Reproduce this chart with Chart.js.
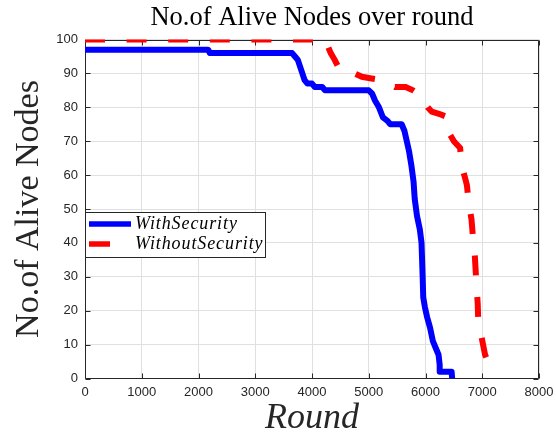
<!DOCTYPE html>
<html><head><meta charset="utf-8">
<script src="https://cdn.jsdelivr.net/npm/chart.js@4"></script>
<style>html,body{margin:0;padding:0;background:#fff}#wrap{width:556px;height:438px}</style>
</head><body><div id="wrap"><canvas id="c" width="556" height="438"></canvas></div>
<script>
const titleText = 'No.of Alive Nodes over round';
const xTitle = 'Round';
const yTitle = 'No.of Alive Nodes';
const seriesNames = ['WithSecurity', 'WithoutSecurity'];
const xTickValues = [0, 1000, 2000, 3000, 4000, 5000, 6000, 7000, 8000];
const yTickValues = [0, 10, 20, 30, 40, 50, 60, 70, 80, 90, 100];

const withRounds = [0, 2170, 2200, 3650, 3700, 3750, 3790, 3830, 3870, 3920, 4000, 4050, 4180, 4230, 5000, 5060, 5110, 5180, 5250, 5330, 5380, 5580, 5630, 5670, 5710, 5750, 5790, 5810, 5850, 5900, 5930, 5950, 5960, 5990, 6030, 6080, 6130, 6180, 6230, 6250, 6250, 6460, 6470];
const withNodes  = [97, 97, 96, 96, 95, 94, 92, 90, 88, 87, 87, 86, 86, 85, 85, 84, 82, 80, 77, 76, 75, 75, 73, 70, 67, 63, 58, 53, 48, 44, 40, 30, 24, 21, 18, 15, 11, 9, 7, 4, 2, 2, 0];

const withoutRounds = [0, 4250, 4280, 4330, 4400, 4460, 4530, 4600, 4750, 4880, 5050, 5230, 5350, 5460, 5650, 5780, 5870, 5960, 6040, 6110, 6250, 6400, 6430, 6500, 6610, 6640, 6700, 6730, 6760, 6810, 6840, 6870, 6890, 6920, 6930, 6940, 6990, 7050, 7100, 7190];
const withoutNodes  = [100, 100, 98, 96, 94, 92, 91, 90, 90, 89, 88.5, 88, 87, 86, 86, 85, 84, 82, 80, 78.7, 78, 77, 72, 70, 68, 62.5, 59, 57, 52, 47, 41, 36, 30, 22, 17, 14, 12, 7, 5, 3];

const toPts = (xs, ys) => xs.map((x, i) => ({x: x, y: ys[i]}));

const AX = '#262626';

const framePlugin = {
  id: 'frame',
  beforeDatasetsDraw(chart) {
    const {ctx, chartArea: a, scales: {x, y}} = chart;
    ctx.save();
    ctx.strokeStyle = AX;
    ctx.lineWidth = 1;
    ctx.beginPath();
    const L = Math.round(a.left) + 0.5, R = Math.round(a.right) - 0.5;
    const T = Math.round(a.top) + 0.5, B = Math.round(a.bottom) - 0.5;
    ctx.rect(L, T, R - L, B - T);
    xTickValues.forEach(v => {
      const px = Math.round(x.getPixelForValue(v)) + 0.5;
      ctx.moveTo(px, B); ctx.lineTo(px, B - 5);
      ctx.moveTo(px, T); ctx.lineTo(px, T + 5);
    });
    yTickValues.forEach(v => {
      const py = Math.round(y.getPixelForValue(v)) + 0.5;
      ctx.moveTo(L, py); ctx.lineTo(L + 5, py);
      ctx.moveTo(R, py); ctx.lineTo(R - 5, py);
    });
    ctx.stroke();
    ctx.restore();
  }
};

const legendPlugin = {
  id: 'insideLegend',
  afterDraw(chart) {
    const {ctx} = chart;
    const ds = chart.data.datasets;
    ctx.save();
    const bx = 85.5, by = 212.5, bw = 180, bh = 45;
    ctx.fillStyle = '#fff';
    ctx.fillRect(bx, by, bw, bh);
    ctx.strokeStyle = AX;
    ctx.lineWidth = 1;
    ctx.strokeRect(bx, by, bw, bh);
    const rows = [224, 244];
    const sampleEnd = [131, 110];
    ds.forEach((d, i) => {
      ctx.strokeStyle = d.borderColor;
      ctx.lineWidth = 5.5;
      ctx.lineCap = 'butt';
      ctx.setLineDash([]);
      ctx.beginPath();
      ctx.moveTo(89, rows[i]);
      ctx.lineTo(sampleEnd[i], rows[i]);
      ctx.stroke();
      ctx.fillStyle = '#000';
      ctx.font = 'italic 18px "Liberation Serif"';
      ctx.letterSpacing = '0.9px';
      ctx.textBaseline = 'alphabetic';
      ctx.textAlign = 'left';
      ctx.fillText(d.label, 135, rows[i] + 5);
    });
    ctx.restore();
  }
};

new Chart(document.getElementById('c'), {
  type: 'line',
  data: {
    datasets: [
      {
        label: seriesNames[0],
        data: toPts(withRounds, withNodes),
        borderColor: '#0000ff',
        backgroundColor: '#0000ff',
        borderWidth: 6,
        pointRadius: 0,
        tension: 0,
        borderJoinStyle: 'round',
        order: 1
      },
      {
        label: seriesNames[1],
        data: toPts(withoutRounds, withoutNodes),
        borderColor: '#ff0000',
        backgroundColor: '#ff0000',
        borderWidth: 6,
        borderDash: [20, 21.6],
        borderCapStyle: 'butt',
        pointRadius: 0,
        tension: 0,
        order: 0
      }
    ]
  },
  options: {
    responsive: false,
    animation: false,
    devicePixelRatio: 1,
    layout: {padding: {left: 0, right: 17, top: 0, bottom: 0}},
    plugins: {
      legend: {display: false},
      tooltip: {enabled: false},
      title: {
        display: true,
        fullSize: false,
        text: titleText,
        color: '#000',
        font: {family: '"Liberation Serif"', size: 26.5, weight: 'normal', lineHeight: 1.2},
        padding: {top: 2, bottom: 5.7}
      }
    },
    scales: {
      x: {
        type: 'linear',
        min: 0, max: 8000,
        afterBuildTicks: s => { s.ticks = xTickValues.map(v => ({value: v})); },
        ticks: {color: AX, font: {family: '"Liberation Sans"', size: 13}, padding: 6, maxRotation: 0, autoSkip: false, callback: v => String(v)},
        grid: {color: '#e0e0e0', lineWidth: 1, drawTicks: false},
        border: {display: false},
        title: {display: true, text: xTitle, color: '#262626', font: {family: '"Liberation Serif"', style: 'italic', size: 36, lineHeight: 1}, padding: {top: 0, bottom: 1}},
        afterFit: s => { s.height = 59.5; s.paddingLeft = 0; s.paddingRight = 0; }
      },
      y: {
        type: 'linear',
        min: 0, max: 100,
        afterBuildTicks: s => { s.ticks = yTickValues.map(v => ({value: v})); },
        ticks: {color: AX, font: {family: '"Liberation Sans"', size: 13}, padding: 7, callback: v => String(v)},
        grid: {color: '#e0e0e0', lineWidth: 1, drawTicks: false},
        border: {display: false},
        title: {display: true, text: yTitle, color: '#262626', font: {family: '"Liberation Serif"', size: 34, lineHeight: 1}, padding: {top: 12, bottom: 0}},
        afterFit: s => { s.width = 85; s.paddingTop = 0; s.paddingBottom = 0; }
      }
    }
  },
  plugins: [framePlugin, legendPlugin]
});
</script>
</body></html>
